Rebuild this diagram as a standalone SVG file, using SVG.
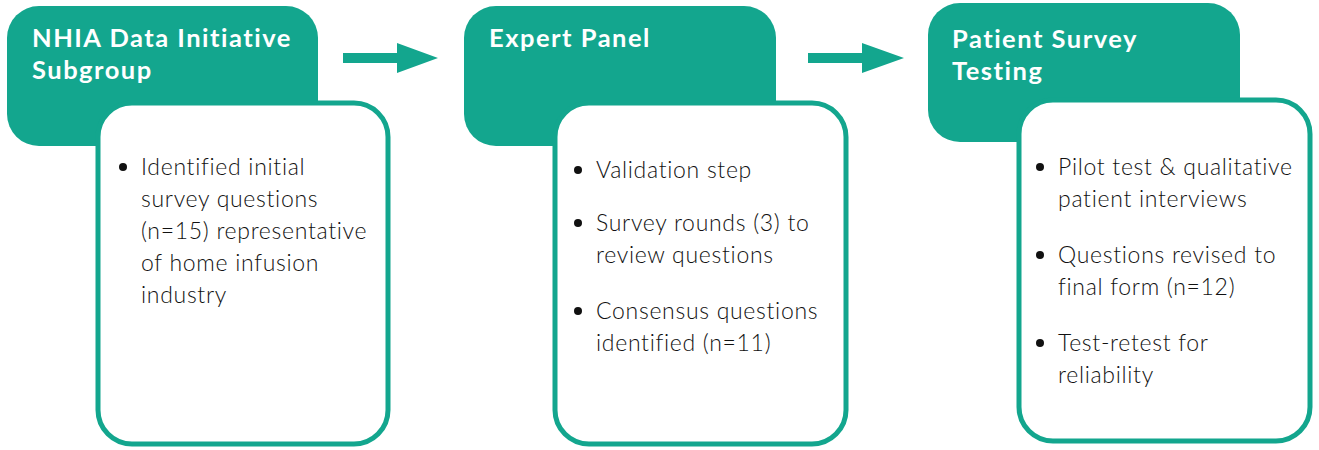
<svg xmlns="http://www.w3.org/2000/svg" width="1319" height="450" viewBox="0 0 1319 450">
<style>
.head{fill:#13a68e}
.card{fill:#fff;stroke:#13a68e;stroke-width:5}
.title{font-family:Lato,"Noto Sans",sans-serif;font-weight:700;font-size:25.5px;fill:#fff;letter-spacing:1.5px}
.body{font-family:Lato,"Noto Sans",sans-serif;font-weight:300;font-size:23px;fill:#111;letter-spacing:0.7px}
.dot{fill:#111}
.arrow{fill:#13a68e}
</style>
<g id="node1">
<rect class="head" x="7" y="6" width="311" height="140" rx="32"/>
<rect class="card" x="98" y="103" width="290" height="341" rx="34"/>
<text class="title" x="32" y="47">NHIA Data Initiative</text>
<text class="title" x="32" y="79">Subgroup</text>
<circle class="dot" cx="123" cy="167" r="4"/>
<text class="body" x="141" y="175">Identified initial</text>
<text class="body" x="141" y="207">survey questions</text>
<text class="body" x="141" y="239">(n=15) representative</text>
<text class="body" x="141" y="271">of home infusion</text>
<text class="body" x="141" y="303">industry</text>
</g>
<g id="node2">
<rect class="head" x="464" y="6" width="312" height="140" rx="32"/>
<rect class="card" x="555" y="103" width="291" height="341" rx="34"/>
<text class="title" x="489" y="47">Expert Panel</text>
<circle class="dot" cx="578" cy="170" r="4"/>
<text class="body" x="596" y="178">Validation step</text>
<circle class="dot" cx="578" cy="223" r="4"/>
<text class="body" x="596" y="231">Survey rounds (3) to</text>
<text class="body" x="596" y="263">review questions</text>
<circle class="dot" cx="578" cy="311" r="4"/>
<text class="body" x="596" y="319">Consensus questions</text>
<text class="body" x="596" y="351">identified (n=11)</text>
</g>
<g id="node3">
<rect class="head" x="928" y="3" width="312" height="139" rx="32"/>
<rect class="card" x="1019" y="100" width="291" height="341" rx="34"/>
<text class="title" x="952" y="48">Patient Survey</text>
<text class="title" x="952" y="80">Testing</text>
<circle class="dot" cx="1040" cy="167" r="4"/>
<text class="body" x="1058" y="175">Pilot test &amp; qualitative</text>
<text class="body" x="1058" y="207">patient interviews</text>
<circle class="dot" cx="1040" cy="255" r="4"/>
<text class="body" x="1058" y="263">Questions revised to</text>
<text class="body" x="1058" y="295">final form (n=12)</text>
<circle class="dot" cx="1040" cy="343" r="4"/>
<text class="body" x="1058" y="351">Test-retest for</text>
<text class="body" x="1058" y="383">reliability</text>
</g>
<g id="connectors">
<polygon class="arrow" points="343,53 397,53 397,43 438,58 397,73 397,63 343,63"/>
<polygon class="arrow" points="808,53 862,53 862,43 904,58 862,73 862,63 808,63"/>
</g>
</svg>
